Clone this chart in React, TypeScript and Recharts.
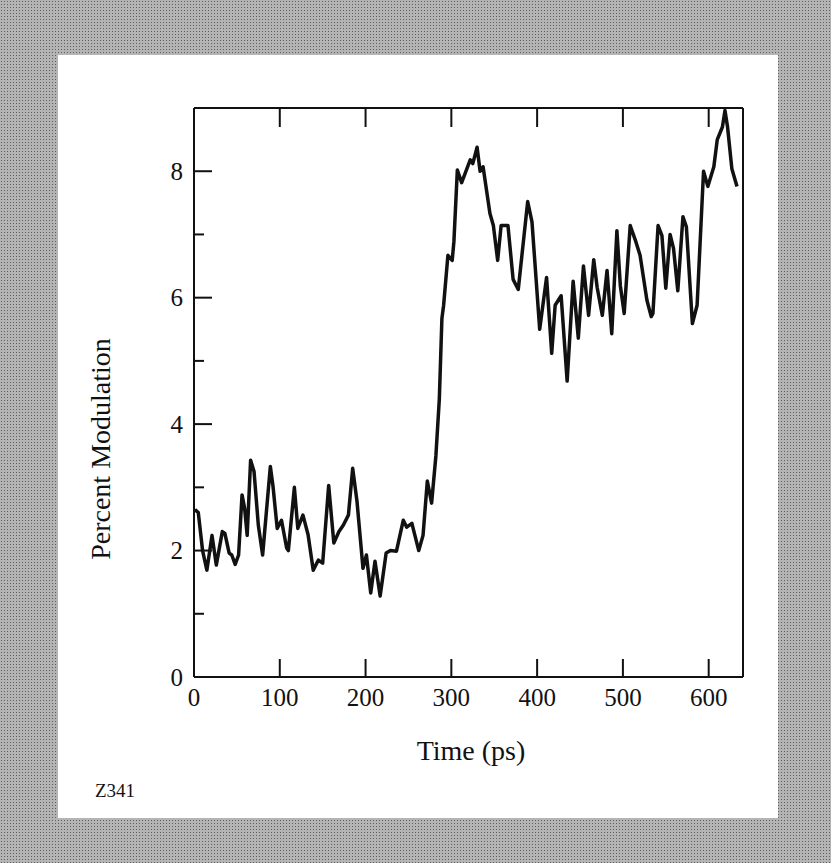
import { LineChart, Line, XAxis, YAxis } from 'recharts';

const timePs = [
  1, 5, 10, 15, 21, 26, 33, 36, 41, 44, 48, 52, 56, 59, 62, 66, 70, 75, 80, 89,
  92, 97, 102, 108, 110, 117, 121, 127, 133, 139, 145, 150, 157, 163, 169, 174, 180, 185, 190, 197,
  201, 206, 211, 217, 224, 229, 236, 244, 248, 254, 262, 267, 272, 277, 282, 286, 289, 291, 296, 301,
  303, 307, 312, 322, 325, 330, 333.5, 337, 345, 349, 354, 358, 366, 372, 378, 389, 394, 403, 411, 417,
  421, 428, 435, 442, 448, 454, 460, 466, 470, 476, 481.5, 487, 493, 497, 501.5, 508.5, 515, 520, 528, 533,
  535, 541, 545.5, 550, 555, 559, 564, 570, 574, 581, 586.5, 594, 599, 606, 610, 616, 619, 622, 627, 633,
];

const modulation = [
  2.65, 2.6, 2.0, 1.69, 2.24, 1.77, 2.3, 2.27, 1.96, 1.93, 1.78, 1.93, 2.88, 2.67, 2.24, 3.43, 3.25, 2.4, 1.93, 3.33,
  3.03, 2.35, 2.48, 2.04, 2.0, 3.0, 2.35, 2.56, 2.25, 1.69, 1.85, 1.8, 3.03, 2.12, 2.3, 2.4, 2.56, 3.3, 2.78, 1.72,
  1.93, 1.33, 1.83, 1.28, 1.96, 2.0, 1.99, 2.48, 2.37, 2.43, 2.0, 2.24, 3.1, 2.75, 3.5, 4.4, 5.67, 5.88, 6.67, 6.59,
  6.89, 8.02, 7.82, 8.18, 8.12, 8.38, 8.0, 8.07, 7.33, 7.14, 6.59, 7.14, 7.14, 6.29, 6.13, 7.52, 7.2, 5.5, 6.32, 5.12,
  5.88, 6.03, 4.68, 6.26, 5.36, 6.5, 5.72, 6.6, 6.16, 5.72, 6.43, 5.43, 7.06, 6.19, 5.75, 7.14, 6.89, 6.67, 5.96, 5.7,
  5.75, 7.14, 6.98, 6.15, 7.0, 6.78, 6.11, 7.28, 7.12, 5.59, 5.88, 8.0, 7.76, 8.07, 8.5, 8.7, 8.96, 8.7, 8.04, 7.76,
];

const xTicks = [0, 100, 200, 300, 400, 500, 600];
const yTicks = [0, 1, 2, 3, 4, 5, 6, 7, 8];

const data = timePs.map((t, i) => ({ t, m: modulation[i] }));

const serif = '"Liberation Serif", "Times New Roman", serif';
const ink = '#111';

// ticks point into the plot; labels sit outside
const LeftTick = ({ x, y, payload }: any) => {
  const v = payload.value;
  const major = v % 2 === 0;
  return (
    <g>
      {v > 0 && <line x1={x} y1={y} x2={x + (major ? 18 : 10)} y2={y} stroke={ink} strokeWidth={2} />}
      {major && (
        <text x={x - 11} y={y} dy="0.35em" textAnchor="end" fontSize={25} fontFamily={serif} fill={ink}>
          {v}
        </text>
      )}
    </g>
  );
};

const RightTick = ({ x, y, payload }: any) => {
  const v = payload.value;
  if (v === 0) return <g />;
  const major = v % 2 === 0;
  return <line x1={x} y1={y} x2={x - (major ? 17 : 10)} y2={y} stroke={ink} strokeWidth={2} />;
};

const BottomTick = ({ x, y, payload }: any) => {
  const v = payload.value;
  return (
    <g>
      {v > 0 && <line x1={x} y1={y} x2={x} y2={y - 18} stroke={ink} strokeWidth={2} />}
      <text x={x} y={y + 29} textAnchor="middle" fontSize={25} fontFamily={serif} fill={ink}>
        {v}
      </text>
    </g>
  );
};

const TopTick = ({ x, y, payload }: any) => {
  const v = payload.value;
  if (v === 0) return <g />;
  return <line x1={x} y1={y} x2={x} y2={y + 19} stroke={ink} strokeWidth={2} />;
};

export default function App() {
  return (
    <div
      style={{
        position: 'absolute',
        left: 0,
        top: 0,
        width: 831,
        height: 863,
        backgroundColor: '#b4b4b4',
        backgroundImage: 'radial-gradient(#5e5e5e 0.7px, transparent 1px)',
        backgroundSize: '3px 3px',
        overflow: 'hidden',
      }}
    >
      <div style={{ position: 'absolute', left: 58, top: 55, width: 720, height: 763, background: '#fff' }} />
      <div style={{ position: 'absolute', left: 0, top: 0 }}>
        <LineChart width={831} height={863} data={data} margin={{ top: 107, right: 87, bottom: 185, left: 193 }}>
          <XAxis
            xAxisId="b"
            dataKey="t"
            type="number"
            domain={[0, 640]}
            ticks={xTicks}
            interval={0}
            height={1}
            tickSize={0}
            tickMargin={0}
            tickLine={false}
            tick={<BottomTick />}
            axisLine={{ stroke: ink, strokeWidth: 2 }}
          />
          <XAxis
            xAxisId="t"
            orientation="top"
            dataKey="t"
            type="number"
            domain={[0, 640]}
            ticks={xTicks}
            interval={0}
            height={1}
            tickSize={0}
            tickMargin={0}
            tickLine={false}
            tick={<TopTick />}
            axisLine={{ stroke: ink, strokeWidth: 2 }}
          />
          <YAxis
            yAxisId="l"
            type="number"
            domain={[0, 9]}
            ticks={yTicks}
            interval={0}
            width={1}
            tickSize={0}
            tickMargin={0}
            tickLine={false}
            tick={<LeftTick />}
            axisLine={{ stroke: ink, strokeWidth: 2 }}
          />
          <YAxis
            yAxisId="r"
            orientation="right"
            type="number"
            domain={[0, 9]}
            ticks={yTicks}
            interval={0}
            width={1}
            tickSize={0}
            tickMargin={0}
            tickLine={false}
            tick={<RightTick />}
            axisLine={{ stroke: ink, strokeWidth: 2 }}
          />
          <Line
            xAxisId="b"
            yAxisId="l"
            type="linear"
            dataKey="m"
            stroke={ink}
            strokeWidth={3.5}
            strokeLinejoin="round"
            dot={false}
            isAnimationActive={false}
          />
        </LineChart>
      </div>
      <div
        style={{
          position: 'absolute',
          left: 471,
          top: 751,
          transform: 'translate(-50%, -50%)',
          fontFamily: serif,
          fontSize: 28,
          color: ink,
          whiteSpace: 'nowrap',
        }}
      >
        Time (ps)
      </div>
      <div
        style={{
          position: 'absolute',
          left: 101,
          top: 449,
          transform: 'translate(-50%, -50%) rotate(-90deg)',
          fontFamily: serif,
          fontSize: 28,
          color: ink,
          whiteSpace: 'nowrap',
        }}
      >
        Percent Modulation
      </div>
      <div
        style={{
          position: 'absolute',
          left: 95,
          top: 791,
          transform: 'translateY(-50%)',
          fontFamily: serif,
          fontSize: 19,
          color: ink,
          whiteSpace: 'nowrap',
        }}
      >
        Z341
      </div>
    </div>
  );
}
